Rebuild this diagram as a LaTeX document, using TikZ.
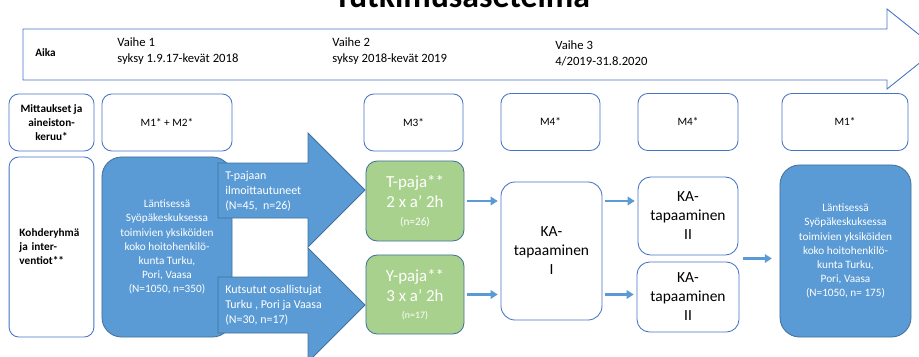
\documentclass[tikz,border=0pt]{standalone}
\usepackage{fontspec}
\setmainfont{Carlito}
\usepackage{xcolor}
\usetikzlibrary{positioning,arrows.meta,calc}

\definecolor{boxline}{HTML}{4472C4}
\definecolor{bluefill}{HTML}{5B9BD5}
\definecolor{blueline}{HTML}{41719C}
\definecolor{greenfill}{HTML}{A9D18E}

\begin{document}
\begin{tikzpicture}[x=0.025cm, y=-0.025cm,
  wbox/.style={draw=boxline, fill=white, rounded corners=7pt, line width=0.6pt, align=center, inner sep=2pt},
  bbox/.style={draw=blueline, fill=bluefill, rounded corners=14pt, line width=0.6pt, align=center, text=white, font=\fontsize{8}{10}\selectfont},
  gbox/.style={draw=blueline, fill=greenfill, rounded corners=8pt, line width=0.6pt, align=center, text=white, font=\fontsize{12}{14.5}\selectfont},
  bigarrow/.style={draw=blueline, fill=bluefill, line width=0.6pt},
  flow/.style={draw=bluefill, line width=1.7pt, -{Triangle[length=5pt,width=6pt]}, shorten <=1.5pt, shorten >=2pt},
  mfont/.style={font=\fontsize{8}{10}\selectfont},
  labfont/.style={font=\fontsize{8}{10}\selectfont\bfseries},
  vfont/.style={font=\fontsize{9}{11.4}\selectfont},
  afont/.style={font=\fontsize{8.5}{10.6}\selectfont},
  kafont/.style={font=\fontsize{11}{13.5}\selectfont}]
\useasboundingbox (0,0) rectangle (919,356);

\node[font=\fontsize{24}{28}\selectfont\bfseries, anchor=base] (title) at (462,7) {Tutkimusasetelma};

\draw[draw=boxline, line width=0.6pt] (23,29) -- (887,29) -- (887,9) -- (937,49) -- (887,89) -- (887,80) -- (23,80) -- cycle;
\node[labfont] (aika) at (45.5,53) {Aika};
\node[vfont, anchor=west, align=left, inner sep=0pt] (vaihe1) at (117,51) {Vaihe 1\\syksy 1.9.17-kevät 2018};
\node[vfont, anchor=west, align=left, inner sep=0pt] (vaihe2) at (332,51) {Vaihe 2\\syksy 2018-kevät 2019};
\node[vfont, anchor=west, align=left, inner sep=0pt] (vaihe3) at (555,53) {Vaihe 3\\4/2019-31.8.2020};

\node[wbox, labfont, minimum width=2.125cm, minimum height=1.425cm] (mittaus) at (51.5,122.5) {Mittaukset ja\\aineiston-\\keruu*};
\node[wbox, mfont, minimum width=3.25cm, minimum height=1.425cm] (m12) at (167,122.5) {M1* + M2*};
\node[wbox, mfont, minimum width=2.475cm, minimum height=1.425cm] (m3) at (413.5,122.5) {M3*};
\node[wbox, mfont, minimum width=2.475cm, minimum height=1.425cm] (m4a) at (550.5,122) {M4*};
\node[wbox, mfont, minimum width=2.5cm, minimum height=1.425cm] (m4b) at (688,122) {M4*};
\node[wbox, mfont, minimum width=3.15cm, minimum height=1.425cm] (m1) at (845,122) {M1*};

\node[wbox, labfont, align=left, text width=1.6cm, inner xsep=0.26cm, minimum height=4.5cm] (kohde) at (51.5,247) {Kohderyhmä\\ja inter-\\ventiot**};
\node[bbox, minimum width=3.25cm, minimum height=4.5cm] (group) at (167,247) {Läntisessä\\Syöpäkeskuksessa\\toimivien yksiköiden\\koko hoitohenkilö-\\kunta Turku,\\Pori, Vaasa\\(N=1050, n=350)};

\filldraw[bigarrow] (218,163) -- (308,163) -- (308,133) -- (365,190) -- (308,247) -- (308,218) -- (218,218) -- cycle;
\filldraw[bigarrow] (218,277) -- (308,277) -- (308,248) -- (365,305) -- (308,362) -- (308,333) -- (218,333) -- cycle;
\node[afont, anchor=west, align=left, text=white, inner sep=0pt] (ilmo) at (225,191) {T-pajaan\\ilmoittautuneet\\(N=45, \ n=26)};
\node[afont, anchor=west, align=left, text=white, inner sep=0pt] (kutsu) at (225,305) {Kutsutut osallistujat\\Turku , Pori ja Vaasa\\(N=30, n=17)};

\node[gbox, minimum width=2.45cm, minimum height=2cm] (tpaja) at (415,201) {T-paja**\\2 x a’ 2h\\[-2pt]{\fontsize{8}{10}\selectfont (n=26)}};
\node[gbox, minimum width=2.45cm, minimum height=1.975cm] (ypaja) at (415,294.5) {Y-paja**\\3 x a’ 2h\\[-3pt]{\fontsize{7}{9}\selectfont (n=17)}};

\node[wbox, kafont, rounded corners=10pt, minimum width=2.525cm, minimum height=3.45cm] (ka1) at (551.5,251) {KA-\\tapaaminen\\I};
\node[wbox, kafont, rounded corners=9pt, minimum width=2.5cm, minimum height=1.95cm] (ka2a) at (688,216) {KA-\\tapaaminen\\II};
\node[wbox, kafont, rounded corners=9pt, minimum width=2.55cm, minimum height=1.75cm] (ka2b) at (688,297) {KA-\\tapaaminen\\II};
\node[bbox, minimum width=3.275cm, minimum height=4.3cm] (final) at (845.5,251) {Läntisessä\\Syöpäkeskuksessa\\toimivien yksiköiden\\koko hoitohenkilö-\\kunta Turku,\\Pori, Vaasa\\(N=1050, n= 175)};

\draw[flow] (tpaja.east) -- (ka1.west |- tpaja.east);
\draw[flow] (ypaja.east) -- (ka1.west |- ypaja.east);
\draw[flow] (ka1.east |- tpaja.east) -- (ka2a.west |- tpaja.east);
\draw[flow] (ka1.east |- ypaja.east) -- (ka2b.west |- ypaja.east);
\coordinate (gap) at ($(ka2a.south east)!0.5!(ka2b.north east)$);
\draw[flow, shorten <=3pt, shorten >=5.5pt] (gap) -- (final.west |- gap);

\end{tikzpicture}
\end{document}
